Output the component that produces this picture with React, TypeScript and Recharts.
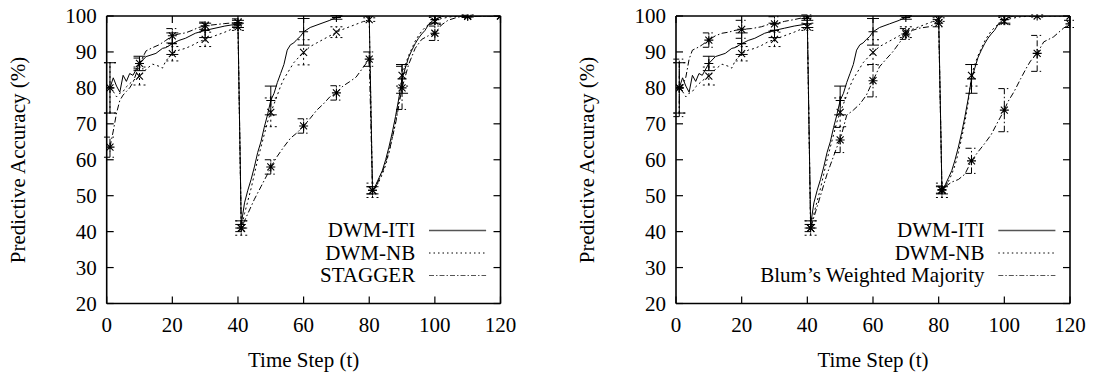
import { LineChart, Line, XAxis, YAxis, ErrorBar } from "recharts";

type Pt = [number, number];

const STEP_TICKS = [0, 20, 40, 60, 80, 100, 120];
const ACC_TICKS = [20, 30, 40, 50, 60, 70, 80, 90, 100];
// time steps that carry a point symbol + error bar
const MARK_T = [1, 10, 20, 30, 40, 41, 50, 60, 70, 80, 81, 90, 100, 110, 120];

const DWM_ITI: Pt[] = [
  [1, 80], [2, 82.8], [3, 80.5], [4, 78.8], [5, 83.5], [6, 81.8], [7, 84], [8, 83.5],
  [10, 86.8], [12, 88.7], [15, 89.6], [17, 91], [18, 91.2], [20, 92.3], [22, 93.2],
  [24, 93.8], [27, 95.2], [30, 96], [33, 96.6], [36, 97.2], [40, 97.8],
  [41, 42], [42, 48], [43, 51.5], [44, 54.5], [45, 58], [46, 62], [47, 65], [48, 69],
  [49, 72.5], [50, 76.5], [51, 78.5], [52, 81.5], [53, 84], [54, 86.5], [55, 90.5],
  [56, 92], [57, 92.5], [58, 93.5], [59, 94.3], [60, 95.6], [62, 96.8], [65, 97.8],
  [68, 98.8], [70, 99.6], [72, 100], [80, 100],
  [81, 51.5], [82, 53], [83, 55], [84, 57], [85, 60], [86, 63.5], [87, 67.5], [88, 72],
  [89, 77], [90, 82.5], [91, 85.5], [92, 88.5], [93, 90.5], [94, 92.3], [95, 93.8],
  [96, 95], [97, 96], [98, 97.5], [99, 98.5], [100, 99], [102, 99.8], [103, 100],
  [110, 100], [120, 100],
];

const DWM_NB: Pt[] = [
  [1, 80], [2, 79], [3, 77.5], [4, 78.5], [5, 79], [6, 80.3], [8, 82], [10, 83.3],
  [11, 84], [12, 85.2], [14, 86.6], [16, 86], [17, 85.5], [18, 87.5], [20, 89.5],
  [22, 90.5], [24, 91], [26, 91.8], [28, 92.8], [30, 93.5], [33, 94.5], [36, 95.5],
  [38, 96.3], [40, 97],
  [41, 41], [42, 45], [43, 48.5], [44, 52], [45, 56], [46, 60], [47, 63.5], [48, 67],
  [49, 70.5], [50, 73.2], [51, 75.5], [52, 78], [53, 80.5], [54, 82.5], [55, 84],
  [56, 85.5], [57, 87], [58, 88], [59, 89], [60, 89.9], [62, 91.5], [64, 92.5],
  [66, 93.5], [68, 94.5], [70, 95.5], [72, 96.3], [74, 97], [76, 97.7], [78, 98.4], [80, 99],
  [81, 51.5], [82, 52.5], [83, 54], [84, 56], [85, 58.5], [86, 62], [87, 66], [88, 70.5],
  [89, 76], [90, 83.5], [91, 86.5], [92, 89], [93, 91], [94, 93], [95, 94.5], [96, 95.8],
  [97, 96.8], [98, 97.6], [100, 98.6], [102, 99.3], [105, 99.8], [110, 100], [120, 100],
];

const STAGGER: Pt[] = [
  [1, 63.5], [2, 68], [3, 73], [4, 76.5], [5, 78], [6, 79], [7, 80], [8, 81.5], [9, 84],
  [10, 86.8], [11, 88.5], [12, 90.3], [14, 91.2], [16, 92], [18, 93.2], [20, 94.5],
  [22, 95], [24, 95.3], [26, 96], [28, 96.8], [30, 97.3], [33, 97.6], [36, 97.9], [40, 98.2],
  [41, 41], [43, 45], [45, 49], [47, 52.5], [49, 56], [50, 58], [52, 61], [54, 63.6],
  [56, 66], [58, 67.5], [60, 69.4], [62, 71.5], [64, 73.8], [66, 75.5], [68, 77.5],
  [70, 78.6], [72, 80.5], [74, 81.7], [76, 83], [78, 85.5], [80, 88],
  [81, 51.5], [82, 52.5], [84, 56.5], [86, 62], [88, 70], [90, 80], [92, 86.5], [94, 91],
  [96, 93.5], [98, 94.5], [100, 95.2], [102, 97.5], [104, 98.8], [107, 99.7], [110, 99.9],
  [120, 100],
];

const BLUM_WM: Pt[] = [
  [1, 80], [2, 80.5], [3, 83], [4, 88], [5, 90.5], [7, 91.4], [8, 92], [10, 93.3],
  [12, 94.5], [14, 95.2], [16, 95.5], [18, 96], [20, 96.3], [23, 96.5], [26, 97],
  [28, 97.6], [30, 97.8], [33, 98.5], [36, 99], [40, 99.8],
  [41, 41], [42, 44], [43, 47], [44, 50], [45, 53], [46, 56], [47, 58.5], [48, 61],
  [49, 63.5], [50, 65.5], [51, 69], [52, 72.4], [54, 73.8], [56, 75.5], [58, 78], [60, 82],
  [62, 85.9], [64, 88], [66, 90], [68, 92.5], [70, 95], [72, 96], [74, 96.6], [77, 97],
  [79, 97.8], [80, 98],
  [81, 51.7], [82, 52.5], [84, 53.8], [86, 54.5], [88, 56], [90, 59.7], [92, 62.2],
  [94, 64.5], [96, 67], [98, 70.5], [100, 73.8], [101, 76], [103, 79], [105, 82.6],
  [107, 86], [108, 87.5], [110, 89.6], [112, 92.8], [115, 94.2], [118, 96.6], [120, 97.8],
];

// half-width of the error bars at MARK_T
const ITI_ERR = [7, 2, 3, 2, 1, 1, 4, 3.7, 0.5, 0, 1, 4, 1, 0, 0];
const NB_ERR = [7, 2.5, 2, 2, 1, 2, 4, 3.5, 1.5, 0.5, 2, 3, 1, 0.3, 0];
const STAGGER_ERR = [2.8, 1.5, 2, 1, 1, 1, 2, 2, 2, 2, 1, 6, 2, 0.3, 0];
const WM_ERR = [8, 2, 2.5, 2, 0.5, 1, 3.5, 4.5, 1.5, 1, 1, 3.5, 6, 5, 1];

const FONT = "'Liberation Serif', 'Times New Roman', serif";
const SOLID = undefined;
const DOTTED = "2 3";
const DASHDOT = "6 2.5 1.5 2.5";

const PLOT_TOP = 16;
const PLOT_BOTTOM = 303.5;
const TICK_LEN = 7;

type Marker = "plus" | "cross" | "star";

interface Series {
  name: string;
  data: Pt[];
  err: number[];
  dash?: string;
  marker: Marker;
}

const toRows = (s: Pt[]) => s.map(([t, v]) => ({ t, v }));
const markRows = (s: Pt[], err: number[]) =>
  MARK_T.map((t, i) => ({ t, v: (s.find((p) => p[0] === t) as Pt)[1], e: err[i] }));

function markerPath(kind: Marker, x: number, y: number) {
  const plus = `M${x - 4.5},${y}H${x + 4.5}M${x},${y - 4.5}V${y + 4.5}`;
  const cross = `M${x - 3.5},${y - 3.5}L${x + 3.5},${y + 3.5}M${x - 3.5},${y + 3.5}L${x + 3.5},${y - 3.5}`;
  if (kind === "plus") return plus;
  if (kind === "cross") return cross;
  return plus + cross;
}

const makeDot = (kind: Marker) => (props: any) => {
  const { cx, cy, index } = props;
  if (cx == null || cy == null) return <g key={`d${index}`} />;
  return (
    <path key={`d${index}`} d={markerPath(kind, cx, cy)} stroke="#000" strokeWidth={1.1} fill="none" />
  );
};

const frame = { stroke: "#000", strokeWidth: 1.6 };

// bottom axis: label below, plus inward ticks on bottom and top border
const StepTick = (props: any) => {
  const { x, y, payload } = props;
  const c = payload.coordinate;
  return (
    <g>
      <line x1={c} x2={c} y1={PLOT_BOTTOM} y2={PLOT_BOTTOM - TICK_LEN} stroke="#000" strokeWidth={1.2} />
      <line x1={c} x2={c} y1={PLOT_TOP} y2={PLOT_TOP + TICK_LEN} stroke="#000" strokeWidth={1.2} />
      <text x={x} y={y} dy="0.71em" textAnchor="middle" fill="#000" fontSize={21} fontFamily={FONT}>
        {payload.value}
      </text>
    </g>
  );
};

// left axis: label left, inward ticks on left and right border
const makeAccTick = (left: number, right: number) => (props: any) => {
  const { x, y, payload } = props;
  const c = payload.coordinate;
  return (
    <g>
      <line x1={left} x2={left + TICK_LEN} y1={c} y2={c} stroke="#000" strokeWidth={1.2} />
      <line x1={right} x2={right - TICK_LEN} y1={c} y2={c} stroke="#000" strokeWidth={1.2} />
      <text x={x} y={y} dy="0.355em" textAnchor="end" fill="#000" fontSize={21} fontFamily={FONT}>
        {payload.value}
      </text>
    </g>
  );
};

interface PanelProps {
  x: number;
  width: number;
  plotLeft: number;
  plotRight: number;
  series: Series[];
}

function Panel({ x, width, plotLeft, plotRight, series }: PanelProps) {
  const pl = plotLeft - x;
  const pr = plotRight - x;
  const legendY = [230.5, 253, 275.5];
  return (
    <div style={{ position: "absolute", left: x, top: 0, width, height: 373 }}>
      <LineChart
        width={width}
        height={373}
        margin={{ top: PLOT_TOP, right: width - pr, left: 0, bottom: 0 }}
        style={{ fontFamily: FONT }}
      >
        <XAxis
          xAxisId="x" dataKey="t" type="number" domain={[0, 120]} ticks={STEP_TICKS}
          interval={0} height={373 - PLOT_BOTTOM} tickSize={0} tickMargin={14} tickLine={false}
          axisLine={frame} tick={StepTick} allowDataOverflow
        />
        <XAxis
          xAxisId="xt" orientation="top" dataKey="t" type="number" domain={[0, 120]}
          ticks={STEP_TICKS} mirror tick={false} tickLine={false} axisLine={frame}
          allowDataOverflow
        />
        <YAxis
          yAxisId="y" type="number" domain={[20, 100]} ticks={ACC_TICKS} interval={0}
          width={pl} tickSize={0} tickMargin={10} tickLine={false}
          axisLine={frame} tick={makeAccTick(pl, pr)} allowDataOverflow
        />
        <YAxis
          yAxisId="yr" orientation="right" type="number" domain={[20, 100]} ticks={ACC_TICKS}
          mirror tick={false} tickLine={false} axisLine={frame} allowDataOverflow
        />
        {series.map((s) => (
          <Line
            key={s.name}
            xAxisId="x"
            yAxisId="y"
            data={toRows(s.data)}
            dataKey="v"
            type="linear"
            stroke="#000"
            strokeWidth={1}
            strokeDasharray={s.dash}
            dot={false}
            activeDot={false}
            isAnimationActive={false}
          />
        ))}
        {series.map((s) => (
          <Line
            key={s.name + "-pts"}
            xAxisId="x"
            yAxisId="y"
            data={markRows(s.data, s.err)}
            dataKey="v"
            stroke="none"
            dot={makeDot(s.marker)}
            activeDot={false}
            isAnimationActive={false}
          >
            <ErrorBar
              dataKey="e"
              direction="y"
              width={6}
              stroke="#000"
              strokeWidth={1}
              strokeDasharray={s.dash}
            />
          </Line>
        ))}
      </LineChart>
      <svg
        width={width}
        height={373}
        style={{ position: "absolute", left: 0, top: 0, pointerEvents: "none" }}
        fontFamily={FONT}
        fontSize={21}
      >
        <text
          x={pl - 81.7}
          y={160}
          textAnchor="middle"
          transform={`rotate(-90, ${pl - 81.7}, 160)`}
          fill="#000"
        >
          Predictive Accuracy (%)
        </text>
        <text x={(pl + pr) / 2} y={366.5} textAnchor="middle" fill="#000">
          Time Step (t)
        </text>
        {series.map((s, i) => (
          <g key={s.name}>
            <text x={pl + 308.5} y={legendY[i]} dy="0.33em" textAnchor="end" fill="#000">
              {s.name}
            </text>
            <line
              x1={pl + 322.3}
              x2={pl + 379.4}
              y1={legendY[i]}
              y2={legendY[i]}
              stroke={s.dash === DOTTED ? "#000" : "#555"}
              strokeWidth={s.dash ? 1 : 1.6}
              strokeDasharray={s.dash === DOTTED ? "1.5 3" : s.dash ? "5 2 1.5 2" : undefined}
            />
          </g>
        ))}
      </svg>
    </div>
  );
}

const LEFT_SERIES: Series[] = [
  { name: "DWM-ITI", data: DWM_ITI, err: ITI_ERR, dash: SOLID, marker: "plus" },
  { name: "DWM-NB", data: DWM_NB, err: NB_ERR, dash: DOTTED, marker: "cross" },
  { name: "STAGGER", data: STAGGER, err: STAGGER_ERR, dash: DASHDOT, marker: "star" },
];

const RIGHT_SERIES: Series[] = [
  { name: "DWM-ITI", data: DWM_ITI, err: ITI_ERR, dash: SOLID, marker: "plus" },
  { name: "DWM-NB", data: DWM_NB, err: NB_ERR, dash: DOTTED, marker: "cross" },
  { name: "Blum\u2019s Weighted Majority", data: BLUM_WM, err: WM_ERR, dash: DASHDOT, marker: "star" },
];

export default function App() {
  return (
    <div
      style={{
        position: "absolute",
        left: 0,
        top: 0,
        width: 1093,
        height: 373,
        background: "#fff",
        overflow: "hidden",
      }}
    >
      <Panel x={0} width={546} plotLeft={106.7} plotRight={500.5} series={LEFT_SERIES} />
      <Panel x={546} width={547} plotLeft={676} plotRight={1070} series={RIGHT_SERIES} />
    </div>
  );
}
